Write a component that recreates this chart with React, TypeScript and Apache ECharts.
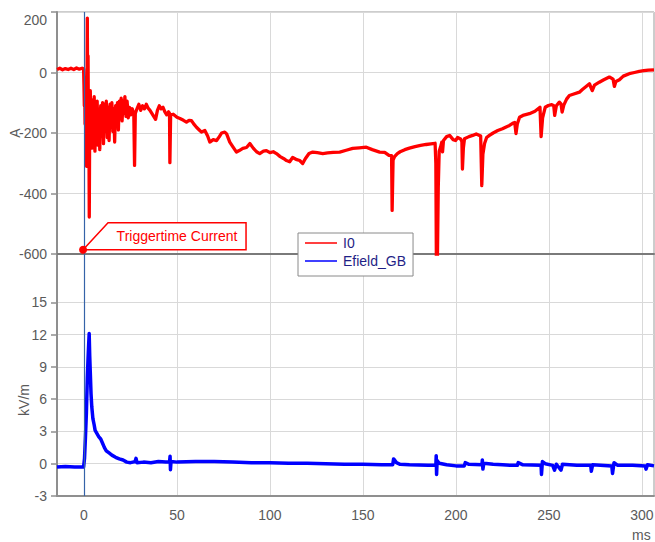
import React, { useEffect, useRef } from 'react';
import * as echarts from 'echarts';

// ms, A
const i0Points: [number, number][] = [
  [-14.5, 10], [-13, 14], [-11.5, 9], [-10, 13], [-8.5, 10], [-7, 14], [-5.5, 10], [-4, 15], [-2.5, 11], [-1, 14], [-0.2, 12],
  [0, -40], [0.2, -110], [0.4, -60], [0.6, -170], [0.8, -70], [1.0, -200], [1.2, -90], [1.4, -310], [1.6, -120], [1.8, 180],
  [2.0, -150], [2.2, 55], [2.4, -210], [2.6, -90], [2.85, -478], [3.1, -140], [3.4, -60], [3.7, -230], [4.0, -90], [4.3, -250],
  [4.7, -100], [5.1, -190], [5.5, -80], [5.9, -260], [6.3, -110], [6.7, -200], [7.1, -95], [7.5, -240], [8, -120], [8.5, -255],
  [9, -110], [9.5, -210], [10, -100], [10.5, -235], [11, -105], [11.5, -190], [12, -95], [12.5, -215], [13, -115], [13.5, -225],
  [14, -105], [14.5, -175], [15, -100], [15.5, -195], [16, -120], [16.5, -230], [17, -110], [17.5, -165], [18, -100], [18.5, -190],
  [19, -95], [19.5, -150], [20, -85], [20.5, -160], [21, -95], [21.5, -135], [22, -80], [22.6, -145], [23.2, -95], [23.8, -150],
  [24.5, -115], [25.2, -140], [26, -120], [26.8, -140], [27.2, -307], [27.6, -135], [28.5, -120], [29.5, -105], [30.5, -125],
  [31.5, -110], [32.5, -120], [33.5, -105], [34.5, -118], [35.5, -125], [36.5, -135], [37.5, -145], [38.5, -155], [39.5, -125],
  [40.5, -110], [41.5, -120], [42.5, -115], [43.5, -130], [44.5, -140], [45.5, -130], [46.0, -135], [46.2, -298], [46.6, -140],
  [48, -138], [50, -148], [51.6, -152], [53.5, -158], [55.1, -164], [56.5, -158], [57.8, -159], [59, -170], [60.5, -181],
  [62, -190], [63.2, -197], [65, -192], [66.5, -210], [67.7, -230], [69.5, -222], [71.3, -225], [72.8, -212], [74, -200],
  [75.7, -197], [76.7, -203], [78.4, -230], [80, -245], [82, -263], [83.5, -258], [85.4, -251], [87.4, -248], [89.2, -235],
  [91, -250], [92.8, -262], [94.5, -268], [96.5, -260], [98.1, -258], [100, -265], [101.8, -262], [103.5, -268], [105.5, -278],
  [107.5, -285], [108.9, -291], [110.6, -295], [112.2, -281], [114, -287], [116, -291], [117.6, -301], [119, -285], [121, -268],
  [123, -263], [125.5, -265], [128.4, -268], [131, -266], [134, -264], [137.5, -263], [141, -257], [144.5, -251], [148, -249],
  [151.8, -247], [155, -255], [159, -263], [161.7, -264], [164, -274], [165.4, -275], [165.7, -456], [166.2, -290], [167, -278],
  [168.5, -268], [170, -262], [172.5, -255], [175, -250], [178, -245], [181, -241], [184, -238], [186.5, -236], [188.8, -234],
  [189.2, -300], [189.5, -640], [190.0, -640], [190.5, -380], [191, -260], [191.8, -245], [192.4, -230], [192.8, -262],
  [193.3, -225], [195, -212], [196.6, -208], [198.5, -222], [199.8, -225], [200.9, -215], [202.5, -220], [203.2, -228],
  [203.5, -319], [204.0, -250], [204.6, -219], [207, -212], [209, -208], [210.9, -203], [213.3, -210], [213.9, -374],
  [214.5, -270], [215.4, -235], [216.5, -215], [218, -208], [220, -200], [222.5, -192], [225, -186], [227, -180], [228.8, -175],
  [230.5, -168], [231.6, -165], [232.3, -202], [233, -170], [234.2, -148], [236, -142], [239.5, -136], [242.5, -128],
  [245.2, -115], [245.8, -212], [246.6, -150], [248, -115], [249.7, -109], [251.5, -106], [252.6, -110], [253.1, -142],
  [254, -110], [255.6, -98], [256.5, -104], [257.1, -131], [258, -108], [259.5, -88], [261, -76], [263, -72], [266.4, -65],
  [268, -56], [270, -46], [271.8, -37], [272.6, -50], [273.3, -60], [274.5, -42], [277.1, -32], [279.5, -24], [282.5, -15],
  [284.5, -22], [285.2, -46], [286, -30], [287.9, -24], [290, -12], [293.2, -4], [296, 0], [298.6, 4], [301, 6], [303.5, 8],
  [306.5, 9],
];

// ms, kV/m
const efieldPoints: [number, number][] = [
  [-14.5, -0.3], [-10, -0.25], [-5, -0.3], [-0.2, -0.3], [0.3, 0.5], [0.8, 2.5], [1.3, 4.7], [1.8, 8], [2.2, 9.8], [2.5, 11],
  [2.8, 12.1], [3.1, 10], [3.4, 8.5], [3.8, 6.5], [4.2, 5.3], [4.8, 4.2], [5.5, 3.6], [6.0, 3.1], [7, 2.8], [8, 2.5], [9, 2.3],
  [10, 1.9], [11, 1.5], [12, 1.2], [13.5, 1.0], [15, 0.8], [17, 0.6], [19, 0.45], [21, 0.35], [23, 0.15], [25, 0.1],
  [27.5, 0.2], [28, 0.5], [28.5, 0.1], [32, 0.15], [36, 0.1], [40, 0.2], [44, 0.15], [46.0, 0.15], [46.3, 0.7], [46.5, -0.55],
  [46.8, 0.2], [50, 0.15], [60, 0.2], [70, 0.2], [80, 0.15], [90, 0.1], [100, 0.1], [110, 0.05], [120, 0.05], [130, 0],
  [140, -0.05], [150, -0.05], [160, -0.1], [166, -0.1], [166.5, 0.45], [168, 0.1], [170, -0.05], [175, -0.1], [185, -0.15],
  [189.2, -0.15], [189.4, 0.75], [189.6, -1.0], [189.9, 0.3], [191, 0.05], [195, -0.1], [200, -0.2], [204.5, -0.2], [205, 0.1],
  [207, -0.05], [214, -0.1], [214.2, 0.35], [214.5, -0.5], [215, 0.05], [220, -0.05], [225, -0.1], [230, -0.15], [233, -0.15],
  [233.5, 0.1], [236, -0.1], [245.8, -0.15], [246, -1.0], [246.5, 0.2], [248, 0], [252, -0.15], [253, -0.6], [254, -0.05],
  [256.5, -0.6], [257.3, -0.05], [265, -0.15], [272.5, -0.15], [272.8, -0.7], [273.5, -0.1], [283.8, -0.2], [284.2, -0.9],
  [285, 0.1], [287, -0.15], [295, -0.15], [301.8, -0.2], [302.2, -0.5], [303, -0.1], [306.5, -0.2],
];

const timeTicks = [0, 50, 100, 150, 200, 250, 300];
const currentTicks = [-600, -400, -200, 0, 200];
const fieldTicks = [-3, 0, 3, 6, 9, 12, 15];
const triggerTime = 0;
const triggerMarker: [number, number] = [-0.5, -586];

const FONT = '"Liberation Sans", Arial, sans-serif';
const LABEL_COLOR = '#5a5a5a';
const GRID_COLOR = '#d9d9d9';
const FRAME_COLOR = '#8f8f8f';
const TRIGGER_LINE = '#3563a8';

export default function App() {
  const ref = useRef<HTMLDivElement>(null);
  useEffect(() => {
    if (!ref.current) return;
    const chart = echarts.init(ref.current, undefined, { renderer: 'svg' });
    const xMin = -14.5;
    const xMax = 306.5;
    const baseX = (gridIndex: number, showLabels: boolean) => ({
      type: 'value' as const,
      gridIndex,
      min: xMin,
      max: xMax,
      axisLine: { show: true, onZero: false, lineStyle: { color: gridIndex === 0 ? '#7a7a7a' : FRAME_COLOR, width: 2 } },
      axisTick: { show: false, customValues: timeTicks },
      axisLabel: {
        show: showLabels,
        customValues: timeTicks,
        fontSize: 14,
        fontFamily: FONT,
        color: LABEL_COLOR,
        margin: 12,
      },
      splitLine: { show: true, lineStyle: { color: GRID_COLOR, width: 1 } },
    });
    chart.setOption({
      animation: false,
      backgroundColor: '#ffffff',
      grid: [
        { left: 57, top: 12, width: 597, height: 242, show: true, borderColor: '#9a9a9a', borderWidth: 1, backgroundColor: 'transparent', containLabel: false, outerBoundsMode: 'none' },
        { left: 57, top: 254, width: 597, height: 242, show: true, borderColor: '#9a9a9a', borderWidth: 1, backgroundColor: 'transparent', containLabel: false, outerBoundsMode: 'none' },
      ],
      xAxis: [baseX(0, false), baseX(1, true)],
      yAxis: [
        {
          type: 'value',
          gridIndex: 0,
          min: -600,
          max: 200,
          axisLine: { show: true, onZero: false, lineStyle: { color: FRAME_COLOR, width: 2 } },
          axisTick: { show: true, length: 6, customValues: currentTicks, lineStyle: { color: FRAME_COLOR, width: 1.5 } },
          axisLabel: {
            customValues: currentTicks,
            fontSize: 14,
            fontFamily: FONT,
            color: LABEL_COLOR,
            margin: 10,
            formatter: (v: number) => (v === 200 ? '{t|200}' : String(v)),
            rich: { t: { padding: [16, 0, 0, 0], fontSize: 14, fontFamily: FONT, color: LABEL_COLOR } },
          },
          splitLine: { show: true, lineStyle: { color: GRID_COLOR, width: 1 } },
        },
        {
          type: 'value',
          gridIndex: 1,
          min: -3,
          max: 19.5,
          axisLine: { show: true, onZero: false, lineStyle: { color: FRAME_COLOR, width: 2 } },
          axisTick: { show: true, length: 6, customValues: fieldTicks, lineStyle: { color: FRAME_COLOR, width: 1.5 } },
          axisLabel: {
            customValues: fieldTicks,
            fontSize: 14,
            fontFamily: FONT,
            color: LABEL_COLOR,
            margin: 10,
          },
          splitLine: { show: true, lineStyle: { color: GRID_COLOR, width: 1 } },
        },
      ],
      legend: {
        orient: 'vertical',
        left: 298,
        top: 233,
        backgroundColor: '#ffffff',
        borderColor: '#8a8a8a',
        borderWidth: 1,
        padding: [3, 7, 8, 7],
        itemGap: 4,
        itemWidth: 32,
        itemHeight: 1.5,
        icon: 'rect',
        textStyle: { fontSize: 14, fontFamily: FONT, color: '#1f1f86', padding: [0, 0, 0, 1] },
        data: ['I0', 'Efield_GB'],
      },
      series: [
        {
          name: 'I0',
          type: 'line',
          xAxisIndex: 0,
          yAxisIndex: 0,
          data: i0Points,
          showSymbol: false,
          symbol: 'none',
          clip: true,
          color: '#ff0000',
          lineStyle: { color: '#ff0000', width: 3.3, join: 'round' },
          markLine: {
            silent: true,
            symbol: ['none', 'none'],
            label: { show: false },
            lineStyle: { color: TRIGGER_LINE, width: 1.2, type: 'solid' },
            data: [{ xAxis: triggerTime }],
          },
          z: 3,
        },
        {
          name: 'Efield_GB',
          type: 'line',
          xAxisIndex: 1,
          yAxisIndex: 1,
          data: efieldPoints,
          showSymbol: false,
          symbol: 'none',
          clip: true,
          color: '#0000ff',
          lineStyle: { color: '#0000ff', width: 3.5, join: 'round' },
          markLine: {
            silent: true,
            symbol: ['none', 'none'],
            label: { show: false },
            lineStyle: { color: TRIGGER_LINE, width: 1.2, type: 'solid' },
            data: [{ xAxis: triggerTime }],
          },
          z: 3,
        },
      ],
    });

    const p = chart.convertToPixel({ xAxisIndex: 0, yAxisIndex: 0 }, triggerMarker) as number[];
    const px = p[0];
    const py = p[1];
    const axisText = (text: string, x: number, y: number, rotation: number, align: string) => ({
      type: 'text',
      x,
      y,
      rotation,
      style: {
        text,
        fill: LABEL_COLOR,
        fontSize: 14,
        fontFamily: FONT,
        align,
        verticalAlign: 'middle',
      },
    });
    chart.setOption({
      graphic: [
        {
          type: 'polygon',
          z: 10,
          shape: {
            points: [
              [px, py],
              [px + 25, py - 27],
              [px + 163, py - 27],
              [px + 163, py],
            ],
          },
          style: { fill: '#ffffff', stroke: '#ff0000', lineWidth: 1.5 },
        },
        {
          type: 'circle',
          z: 11,
          shape: { cx: px, cy: py, r: 4 },
          style: { fill: '#ff0000' },
        },
        {
          type: 'text',
          z: 11,
          x: px + 94,
          y: py - 13.5,
          style: {
            text: 'Triggertime Current',
            fill: '#ff0000',
            fontSize: 14,
            fontFamily: FONT,
            align: 'center',
            verticalAlign: 'middle',
          },
        },
        axisText('A', 15, 133, Math.PI / 2, 'center'),
        axisText('kV/m', 24, 400, Math.PI / 2, 'center'),
        axisText('ms', 632, 535, 0, 'left'),
      ],
    });

    return () => chart.dispose();
  }, []);

  return (
    <div
      ref={ref}
      style={{ position: 'fixed', left: 0, top: 0, width: 655, height: 542, background: '#fff' }}
    />
  );
}
